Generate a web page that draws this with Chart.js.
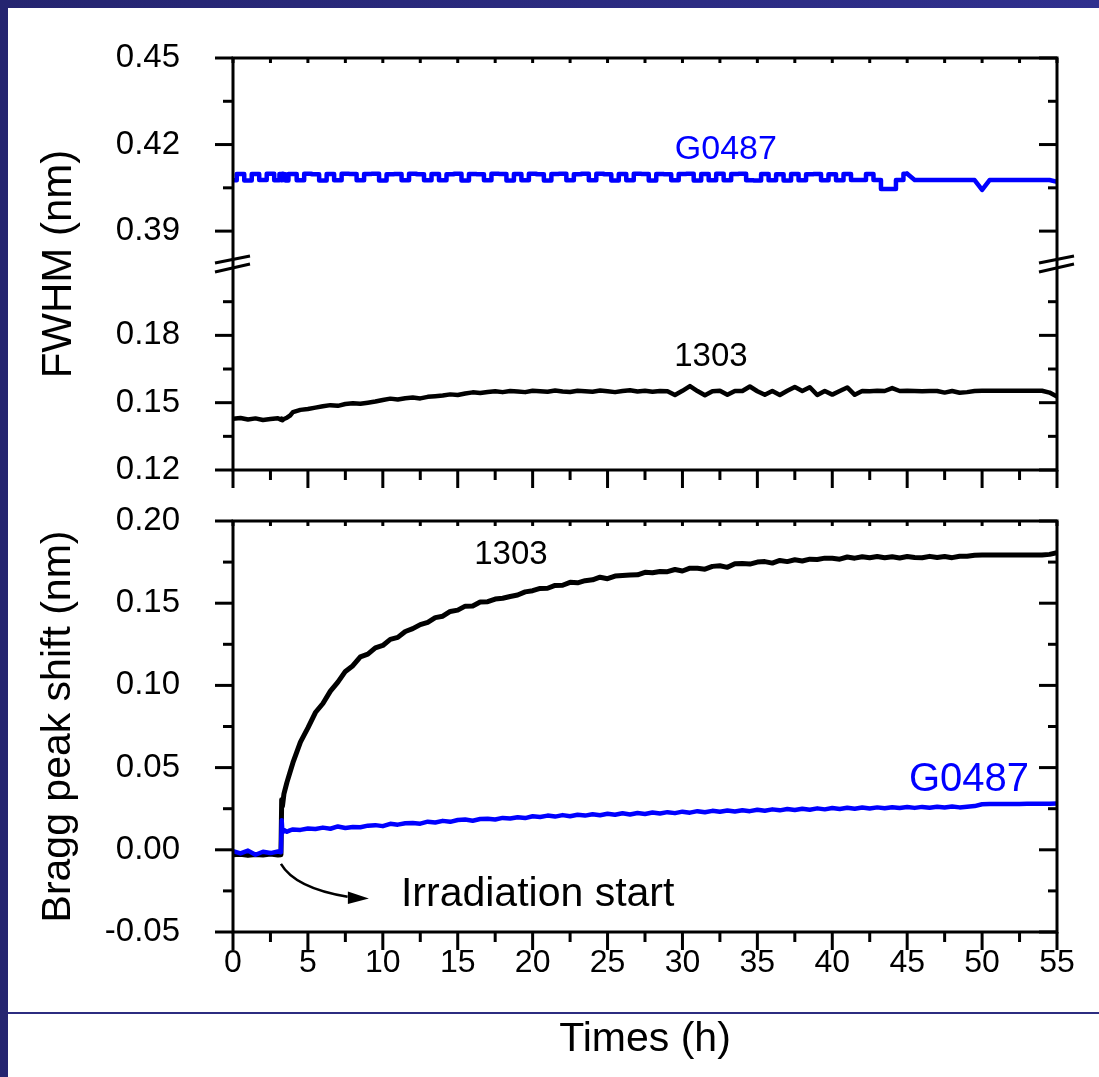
<!DOCTYPE html>
<html><head><meta charset="utf-8">
<script src="https://cdn.jsdelivr.net/npm/chart.js@4.4.1/dist/chart.umd.min.js"></script>
<style>
html,body{margin:0;padding:0;}
body{width:1099px;height:1077px;overflow:hidden;position:relative;background:linear-gradient(90deg,#252570,#30308e);}
#paper{position:absolute;left:8px;top:8px;right:0;bottom:0;background:#fff;}
#rule{position:absolute;left:8px;right:0;top:1012px;height:2px;background:#2c2c80;}
canvas{position:absolute;left:0;top:0;}
</style></head><body>
<div id="paper"></div><div id="rule"></div>
<canvas id="cUp" width="1099" height="1077"></canvas>
<canvas id="cLow" width="1099" height="1077"></canvas>
<script>
// ---------- data ----------
const hours = [
  0,0.5,1,1.5,2,2.5,3,3.2,3.25,3.3,3.4,3.6,3.8,
  4,4.5,5,5.5,6,6.5,7,7.5,8,8.5,
  9,9.5,10,10.5,11,11.5,12,12.5,13,13.5,
  14,14.5,15,15.5,16,16.5,17,17.5,18,18.5,
  19,19.5,20,20.5,21,21.5,22,22.5,23,23.5,
  24,24.5,25,25.5,26,26.5,27,27.5,28,28.5,
  29,29.5,30,30.5,31,31.5,32,32.5,33,33.5,
  34,34.5,35,35.5,36,36.5,37,37.5,38,38.5,
  39,39.5,40,40.5,41,41.5,42,42.5,43,43.5,
  44,44.5,45,45.5,46,46.5,47,47.5,48,48.5,
  49,49.5,50,50.5,51,51.5,52,52.5,53,53.5,
  54,54.5,55
];
// FWHM (nm), upper panel
const fwhmG0487 = [
  0.4076,0.4098,0.4075,0.4098,0.4077,0.4099,0.4076,0.4098,0.4076,0.4099,0.4097,0.4075,0.4098,
  0.4098,0.4076,0.4099,0.4097,0.4075,0.4098,0.4076,0.4099,0.4098,0.4076,
  0.4098,0.4099,0.4075,0.4097,0.4098,0.4076,0.4099,0.4097,0.4076,0.4098,
  0.4076,0.4097,0.4099,0.4075,0.4098,0.4097,0.4076,0.4099,0.4098,0.4075,
  0.4098,0.4076,0.4099,0.4097,0.4075,0.4098,0.4099,0.4076,0.4097,0.4099,
  0.4076,0.4099,0.4097,0.4075,0.4098,0.4076,0.4099,0.4098,0.4075,0.4098,
  0.4097,0.4076,0.4098,0.4099,0.4075,0.4098,0.4076,0.4099,0.4076,0.4098,
  0.4099,0.4076,0.4075,0.4098,0.4076,0.4097,0.4075,0.4098,0.4076,0.4097,
  0.4098,0.4076,0.4097,0.4076,0.4098,0.4077,0.4077,0.4098,0.4077,0.4046,
  0.4046,0.4077,0.4099,0.4077,0.4077,0.4077,0.4077,0.4077,0.4077,0.4077,
  0.4077,0.4077,0.4043,0.4077,0.4077,0.4077,0.4077,0.4077,0.4077,0.4077,
  0.4077,0.4077,0.4071
];
const fwhm1303 = [
  0.1428,0.1432,0.1425,0.1430,0.1423,0.1427,0.1431,0.1424,0.1429,0.1422,0.1427,0.1433,0.1442,
  0.1458,0.1468,0.1472,0.1478,0.1484,0.1489,0.1486,0.1494,0.1497,0.1495,
  0.1500,0.1505,0.1512,0.1518,0.1514,0.1520,0.1523,0.1519,0.1526,0.1529,
  0.1532,0.1537,0.1534,0.1541,0.1546,0.1543,0.1548,0.1551,0.1547,0.1552,
  0.1550,0.1547,0.1553,0.1551,0.1549,0.1554,0.1550,0.1548,0.1553,0.1551,
  0.1549,0.1554,0.1551,0.1547,0.1552,0.1555,0.1550,0.1553,0.1549,0.1552,
  0.1551,0.1534,0.1553,0.1574,0.1552,0.1533,0.1551,0.1553,0.1535,0.1552,
  0.1552,0.1572,0.1551,0.1535,0.1552,0.1534,0.1553,0.1570,0.1552,0.1569,
  0.1534,0.1552,0.1536,0.1552,0.1568,0.1535,0.1552,0.1551,0.1553,0.1552,
  0.1565,0.1552,0.1553,0.1552,0.1551,0.1552,0.1552,0.1545,0.1552,0.1544,
  0.1547,0.1552,0.1553,0.1553,0.1553,0.1553,0.1553,0.1553,0.1553,0.1553,
  0.1553,0.1545,0.1527
];
// Bragg peak shift (nm), lower panel
const shift1303 = [
  -0.0030,-0.0027,-0.0034,-0.0029,-0.0032,-0.0026,-0.0031,-0.0030,0.0305,0.0265,0.0340,0.0410,0.0470,
  0.0530,0.0655,0.0742,0.0835,0.0890,0.0965,0.1020,0.1085,0.1120,0.1174,
  0.1190,0.1228,0.1243,0.1280,0.1292,0.1328,0.1345,0.1370,0.1384,0.1412,
  0.1421,0.1450,0.1458,0.1482,0.1483,0.1507,0.1509,0.1525,0.1530,0.1541,
  0.1550,0.1569,0.1576,0.1590,0.1591,0.1608,0.1609,0.1627,0.1624,0.1637,
  0.1642,0.1658,0.1649,0.1665,0.1668,0.1671,0.1673,0.1688,0.1685,0.1693,
  0.1692,0.1705,0.1696,0.1713,0.1712,0.1707,0.1724,0.1728,0.1718,0.1740,
  0.1741,0.1738,0.1750,0.1753,0.1744,0.1760,0.1753,0.1764,0.1757,0.1768,
  0.1766,0.1774,0.1773,0.1768,0.1781,0.1774,0.1783,0.1776,0.1784,0.1777,
  0.1783,0.1775,0.1784,0.1778,0.1776,0.1785,0.1778,0.1784,0.1777,0.1786,
  0.1786,0.1792,0.1793,0.1793,0.1793,0.1793,0.1793,0.1793,0.1793,0.1793,
  0.1793,0.1797,0.1807
];
const shiftG0487 = [
  -0.0008,-0.0022,-0.0005,-0.0030,-0.0012,-0.0020,-0.0010,-0.0015,0.0180,0.0105,0.0120,0.0110,0.0118,
  0.0124,0.0121,0.0130,0.0127,0.0135,0.0128,0.0142,0.0133,0.0139,0.0137,
  0.0147,0.0150,0.0144,0.0158,0.0153,0.0161,0.0163,0.0159,0.0171,0.0166,
  0.0176,0.0170,0.0181,0.0184,0.0177,0.0187,0.0189,0.0184,0.0194,0.0190,
  0.0198,0.0193,0.0204,0.0200,0.0208,0.0202,0.0211,0.0204,0.0213,0.0208,
  0.0216,0.0210,0.0219,0.0213,0.0222,0.0215,0.0224,0.0218,0.0227,0.0221,
  0.0229,0.0223,0.0232,0.0226,0.0235,0.0228,0.0237,0.0231,0.0239,0.0233,
  0.0241,0.0235,0.0244,0.0238,0.0246,0.0240,0.0248,0.0242,0.0250,0.0244,
  0.0252,0.0246,0.0254,0.0248,0.0256,0.0250,0.0257,0.0251,0.0258,0.0253,
  0.0259,0.0254,0.0260,0.0255,0.0261,0.0256,0.0262,0.0257,0.0263,0.0258,
  0.0262,0.0266,0.0277,0.0278,0.0278,0.0279,0.0279,0.0279,0.0280,0.0280,
  0.0280,0.0280,0.0281
];
// axis ticks
const timeTicks = [0,5,10,15,20,25,30,35,40,45,50,55];
const timeMinor = [2.5,7.5,12.5,17.5,22.5,27.5,32.5,37.5,42.5,47.5,52.5];
const fwhmTopTicks = [0.39,0.42,0.45];
const fwhmTopMinor = [0.405,0.435];
const fwhmBotTicks = [0.12,0.15,0.18];
const fwhmBotMinor = [0.135,0.165,0.195];
const shiftTicks = [-0.05,0,0.05,0.10,0.15,0.20];
const shiftMinor = [-0.025,0.025,0.075,0.125,0.175];

// ---------- helpers ----------
const FONT = 'Arial, "Liberation Sans", Helvetica, sans-serif';
Chart.defaults.font.family = FONT;
Chart.defaults.color = '#000';
const pts = (ys) => hours.map((t, i) => ({x: t, y: ys[i]}));
function seg(ctx, x1, y1, x2, y2) { ctx.beginPath(); ctx.moveTo(x1, y1); ctx.lineTo(x2, y2); ctx.stroke(); }
function yTicks(ctx, scale, area, major, minor) {
  for (const v of major) { const p = scale.getPixelForValue(v); seg(ctx, area.left - 18, p, area.left, p); seg(ctx, area.right - 18, p, area.right, p); }
  for (const v of minor) { const p = scale.getPixelForValue(v); seg(ctx, area.left - 10, p, area.left, p); seg(ctx, area.right - 9, p, area.right, p); }
}
function xTicks(ctx, scale, area) {
  for (const v of timeTicks) { const p = scale.getPixelForValue(v); seg(ctx, p, area.top, p, area.top + 5); seg(ctx, p, area.bottom, p, area.bottom + 18); }
  for (const v of timeMinor) { const p = scale.getPixelForValue(v); seg(ctx, p, area.top, p, area.top + 5); seg(ctx, p, area.bottom, p, area.bottom + 10); }
}
function label(ctx, text, x, y, size, color, align) {
  ctx.save(); ctx.font = size + 'px ' + FONT; ctx.fillStyle = color; ctx.textAlign = align || 'center'; ctx.textBaseline = 'middle';
  ctx.fillText(text, x, y); ctx.restore();
}
const fixedTicks = (arr) => (s) => { s.ticks = arr.map(v => ({value: v})); };
const lineDs = (lbl, data, color, axis, w, stepped) => ({label: lbl, data: data, borderColor: color, backgroundColor: color, borderWidth: w,
  pointRadius: 0, tension: 0, fill: false, yAxisID: axis, stepped: stepped || false, borderJoinStyle: 'round', borderCapStyle: 'round'});
const yGrid = {display: false, drawTicks: true, tickLength: 53};
const yTickOpts = {padding: 0, font: {size: 33}, color: '#000', callback: v => Number(v).toFixed(2)};
function pinArea(chart, box) {
  for (let i = 0; i < 5; i++) {
    const a = chart.chartArea, p = chart.options.layout.padding;
    const dT = a.top - box.top, dB = box.bottom - a.bottom, dL = a.left - box.left, dR = box.right - a.right;
    if (Math.abs(dT) < 0.5 && Math.abs(dB) < 0.5 && Math.abs(dL) < 0.5 && Math.abs(dR) < 0.5) break;
    p.top -= dT; p.bottom -= dB; p.left -= dL; p.right -= dR;
    chart.update();
  }
}

// ---------- upper chart : FWHM with broken axis ----------
const upperDeco = {
  id: 'upperDeco',
  afterDraw(chart) {
    const ctx = chart.ctx, a = chart.chartArea, x = chart.scales.x, yT = chart.scales.yTop, yB = chart.scales.yBot;
    ctx.save();
    ctx.strokeStyle = '#000'; ctx.lineWidth = 3; ctx.lineCap = 'butt';
    ctx.strokeRect(a.left, a.top, a.right - a.left, a.bottom - a.top);
    yTicks(ctx, yT, a, fwhmTopTicks, fwhmTopMinor);
    yTicks(ctx, yB, a, fwhmBotTicks, fwhmBotMinor);
    xTicks(ctx, x, a);
    const yb = yT.bottom;
    for (const ax of [a.left, a.right]) {
      seg(ctx, ax - 18, yb - 1, ax + 17, yb - 8);
      seg(ctx, ax - 18, yb + 8, ax + 17, yb + 0);
    }
    ctx.restore();
    ctx.save(); ctx.translate(59, (a.top + a.bottom) / 2); ctx.rotate(-Math.PI / 2);
    label(ctx, 'FWHM (nm)', 0, 0, 42, '#000'); ctx.restore();
    label(ctx, 'G0487', x.getPixelForValue(32.9), yT.getPixelForValue(0.4181), 34, '#0000ff');
    label(ctx, '1303', x.getPixelForValue(31.9), yB.getPixelForValue(0.1702), 33, '#000');
  }
};

const g0487Pts = pts(fwhmG0487);
const upper = new Chart(document.getElementById('cUp'), {
  type: 'line',
  data: { datasets: [
    lineDs('G0487', g0487Pts.filter(p => p.x <= 45), '#0000ff', 'yTop', 4.5, 'middle'),
    lineDs('G0487 tail', g0487Pts.filter(p => p.x >= 45), '#0000ff', 'yTop', 4.5),
    lineDs('1303', pts(fwhm1303), '#000000', 'yBot', 4.5) ] },
  options: {
    responsive: false, animation: false, devicePixelRatio: 1,
    layout: {padding: {left: 0, right: 42, top: 58, bottom: 607}},
    plugins: {legend: {display: false}, tooltip: {enabled: false}},
    scales: {
      x: {type: 'linear', min: 0, max: 55, display: false},
      yTop: {type: 'linear', position: 'left', stack: 'fwhm', stackWeight: 1, weight: 2, min: 0.3786, max: 0.45,
        afterFit: s => { s.width = 233; }, afterBuildTicks: fixedTicks(fwhmTopTicks),
        grid: yGrid, border: {display: false}, ticks: yTickOpts},
      yBot: {type: 'linear', position: 'left', stack: 'fwhm', stackWeight: 1, weight: 1, min: 0.12, max: 0.2118,
        afterFit: s => { s.width = 233; }, afterBuildTicks: fixedTicks(fwhmBotTicks),
        grid: yGrid, border: {display: false}, ticks: yTickOpts}
    }
  },
  plugins: [upperDeco]
});
pinArea(upper, {left: 233, right: 1057, top: 58, bottom: 470});

// ---------- lower chart : Bragg peak shift ----------
const lowerDeco = {
  id: 'lowerDeco',
  afterDraw(chart) {
    const ctx = chart.ctx, a = chart.chartArea, x = chart.scales.x, y = chart.scales.y;
    ctx.save();
    ctx.strokeStyle = '#000'; ctx.lineWidth = 3; ctx.lineCap = 'butt';
    ctx.strokeRect(a.left, a.top, a.right - a.left, a.bottom - a.top);
    yTicks(ctx, y, a, shiftTicks, shiftMinor);
    xTicks(ctx, x, a);
    ctx.lineWidth = 2.5;
    const s = {x: x.getPixelForValue(3.2), y: y.getPixelForValue(-0.0085)};
    const c = {x: x.getPixelForValue(4.14), y: y.getPixelForValue(-0.0232)};
    const e = {x: x.getPixelForValue(7.65), y: y.getPixelForValue(-0.0285)};
    ctx.beginPath(); ctx.moveTo(s.x, s.y); ctx.quadraticCurveTo(c.x, c.y, e.x, e.y); ctx.stroke();
    const tip = {x: x.getPixelForValue(9.07), y: y.getPixelForValue(-0.0296)};
    ctx.fillStyle = '#000';
    ctx.beginPath(); ctx.moveTo(tip.x, tip.y); ctx.lineTo(tip.x - 21, tip.y - 7); ctx.lineTo(tip.x - 21, tip.y + 5.5); ctx.closePath(); ctx.fill();
    ctx.restore();
    label(ctx, 'Irradiation start', x.getPixelForValue(11.21), y.getPixelForValue(-0.0275), 41, '#000', 'left');
    label(ctx, '1303', x.getPixelForValue(18.55), y.getPixelForValue(0.1793), 33, '#000');
    label(ctx, 'G0487', x.getPixelForValue(49.13), y.getPixelForValue(0.0425), 40, '#0000ff');
  }
};

const lower = new Chart(document.getElementById('cLow'), {
  type: 'line',
  data: { datasets: [ lineDs('G0487', pts(shiftG0487), '#0000ff', 'y', 4.5), lineDs('1303', pts(shift1303), '#000000', 'y', 5) ] },
  options: {
    responsive: false, animation: false, devicePixelRatio: 1,
    layout: {padding: {left: 0, right: 42, top: 521, bottom: 0}},
    plugins: {legend: {display: false}, tooltip: {enabled: false}},
    scales: {
      x: {type: 'linear', position: 'bottom', min: 0, max: 55,
        afterFit: s => { s.height = 145; }, afterBuildTicks: fixedTicks(timeTicks),
        grid: {display: false, drawTicks: false}, border: {display: false},
        ticks: {padding: 12, font: {size: 32}, color: '#000', autoSkip: false, maxRotation: 0, callback: v => String(v)},
        title: {display: true, text: 'Times (h)', font: {size: 41}, color: '#000', padding: {top: 0, bottom: 13}}},
      y: {type: 'linear', position: 'left', min: -0.05, max: 0.2,
        afterFit: s => { s.width = 233; }, afterBuildTicks: fixedTicks(shiftTicks),
        grid: yGrid, border: {display: false}, ticks: yTickOpts,
        title: {display: true, text: 'Bragg peak shift (nm)', font: {size: 41}, color: '#000', padding: {top: 34, bottom: 0}}}
    }
  },
  plugins: [lowerDeco]
});
pinArea(lower, {left: 233, right: 1057, top: 521, bottom: 932});
</script>
</body></html>
